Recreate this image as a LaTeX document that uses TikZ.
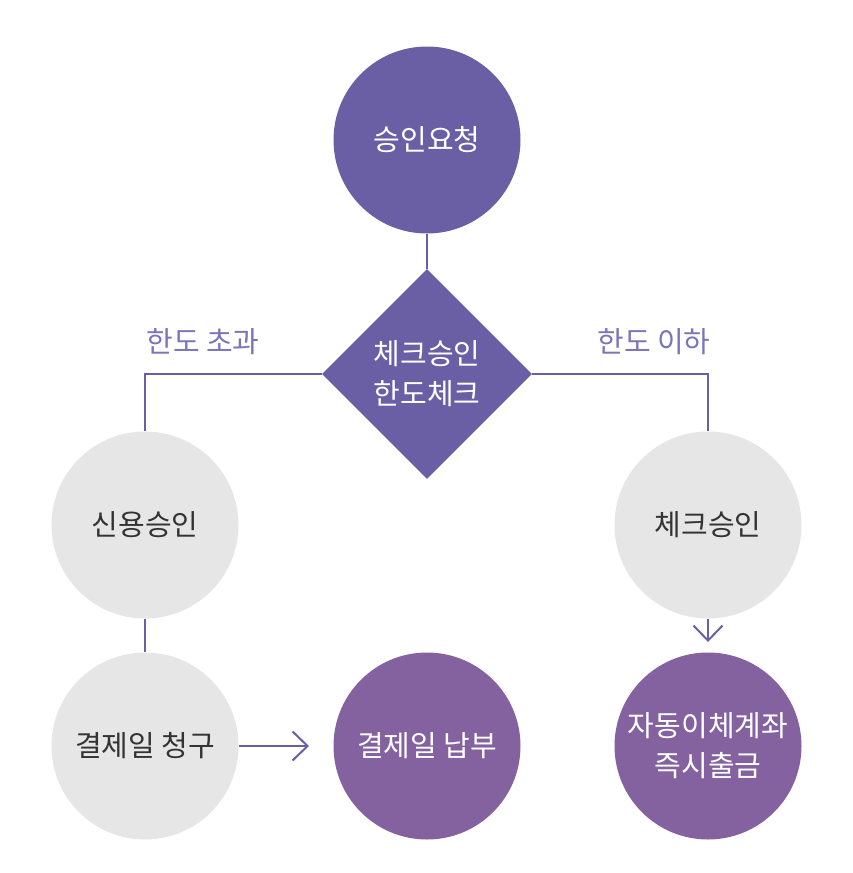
\documentclass[tikz,border=0pt]{standalone}
\usepackage{fontspec}
\setmainfont{Noto Sans CJK KR}
\usetikzlibrary{arrows.meta,shapes.geometric}
\definecolor{navy}{HTML}{6A5FA5}
\definecolor{plum}{HTML}{84629F}
\definecolor{lgray}{HTML}{E6E6E6}
\definecolor{lbl}{HTML}{7C74B8}
\definecolor{dtext}{HTML}{333333}
\tikzset{
  x=1pt,y=-1pt,
  txt/.style={font=\fontsize{29}{40}\selectfont, align=center},
  topc/.style={circle, fill=navy, minimum size=187pt, inner sep=0pt, text=white, txt},
  grayc/.style={circle, fill=lgray, minimum size=187pt, inner sep=0pt, text=dtext, txt},
  plumc/.style={circle, fill=plum, minimum size=187pt, inner sep=0pt, text=white, txt},
  dia/.style={diamond, fill=navy, minimum width=210pt, minimum height=210pt, inner sep=0pt, text=white, txt},
  conn/.style={draw=navy, line width=2pt},
  arr/.style={conn, -{Straight Barb[length=15pt,width=29pt,line width=2pt]}},
  lab/.style={text=lbl, font=\fontsize{29}{34}\selectfont}
}
\begin{document}
\begin{tikzpicture}
\useasboundingbox (0,0) rectangle (853,873);
\node[topc] (req) at (427,140) {승인요청};
\node[dia] (chk) at (427,374) {체크승인\\한도체크};
\node[grayc] (cred) at (145,525) {신용승인};
\node[grayc] (chkok) at (708,525) {체크승인};
\node[grayc] (bill) at (145,746) {결제일 청구};
\node[plumc] (pay) at (427,746) {결제일 납부};
\node[plumc] (auto) at (708,746) {자동이체계좌\\즉시출금};
\node[lab] (over) at (203,342) {한도 초과};
\node[lab] (under) at (654,342) {한도 이하};
\draw[conn] (req.south) -- (chk.north);
\draw[conn] (chk.west) -| (cred.north);
\draw[conn] (chk.east) -| (chkok.north);
\draw[conn] (cred.south) -- (bill.north);
\coordinate (a1) at (708,642);
\draw[arr] (chkok.south) -- (a1);
\coordinate (a2) at (309,746);
\draw[arr] (bill.east) -- (a2);
\end{tikzpicture}
\end{document}
